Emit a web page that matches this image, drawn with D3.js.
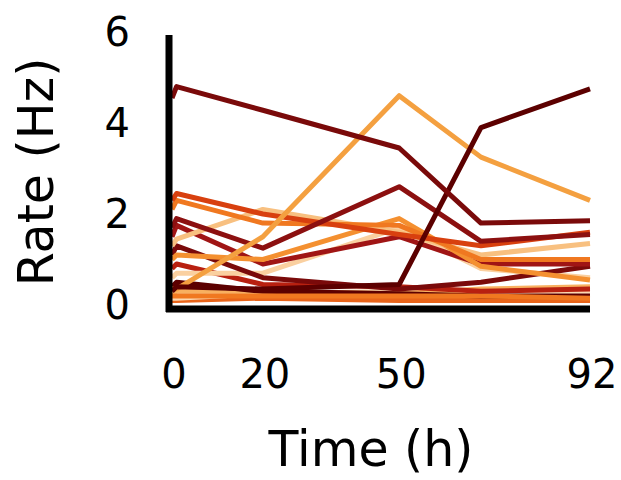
<!DOCTYPE html>
<html>
<head>
<meta charset="utf-8">
<script src="https://cdn.jsdelivr.net/npm/d3@7"></script>
<style>
  body { margin: 0; background: #fff; }
  text { font-family: "DejaVu Sans", sans-serif; fill: #000; }
</style>
</head>
<body>
<svg id="chart" width="621" height="480"></svg>
<script>
// time points (h) shared by every recording
const times = [0, 1, 20, 50, 68, 92];

// firing rate (Hz) of each unit
const unitA = [4.55, 4.8, 4.28, 3.45, 1.8, 1.85];
const unitB = [0.3, 0.4, 0.35, 0.45, 3.9, 4.75];
const unitC = [0.35, 0.35, 1.5, 4.6, 3.25, 2.3];
const unitD = [1.7, 1.9, 1.25, 2.6, 1.4, 1.55];
const unitE = [2.3, 2.45, 2.0, 1.55, 1.3, 1.6];
const unitF = [2.1, 2.3, 1.8, 1.75, 1.0, 1.0];
const unitG = [1.3, 1.45, 2.1, 1.6, 1.1, 1.35];
const unitH = [1.0, 1.1, 1.0, 1.9, 0.85, 0.55];
const unitI = [1.5, 1.75, 0.9, 1.5, 0.9, 0.9];
const unitJ = [1.1, 1.3, 0.6, 0.35, 0.5, 0.85];
const unitK = [0.6, 0.7, 0.7, 1.7, 0.8, 0.6];
const unitL = [0.8, 0.9, 0.45, 0.4, 0.3, 0.35];
const unitM = [0.2, 0.2, 0.2, 0.2, 0.2, 0.15];
const unitN = [0.4, 0.5, 0.3, 0.25, 0.2, 0.2];
const unitO = [0.25, 0.3, 0.3, 0.25, 0.35, 0.4];
const unitP = [0.15, 0.15, 0.25, 0.3, 0.3, 0.3];
const unitQ = [0.1, 0.1, 0.15, 0.1, 0.1, 0.1];

const seriesList = [unitQ, unitP, unitO, unitN, unitM, unitL, unitK, unitJ, unitI,
                    unitH, unitG, unitF, unitE, unitD, unitC, unitB, unitA];
const seriesColors = ["#e8641a", "#fcd8b0", "#f8b060", "#5c0000", "#f07820", "#b82010",
                      "#fad0a0", "#7a0a0a", "#a01515", "#f49030", "#f8c080", "#f07820",
                      "#d8400f", "#8c1010", "#f4a040", "#5c0000", "#7a0a0a"];

const xTicks = [0, 20, 50, 92];
const yTicks = [0, 2, 4, 6];

const svg = d3.select("#chart");

const x = d3.scaleLinear().domain([0, 92]).range([172, 590]);
const y = d3.scaleLinear().domain([0, 6]).range([305, 32]);

const line = d3.line()
  .x((d, i) => x(times[i]))
  .y(d => y(d));

// unit traces
svg.append("g")
  .selectAll("path")
  .data(seriesList)
  .enter()
  .append("path")
  .attr("d", d => line(d))
  .attr("fill", "none")
  .attr("stroke", (d, i) => seriesColors[i])
  .attr("stroke-width", 5)
  .attr("stroke-linejoin", "round");

// spines (no tick marks, just thick lines)
svg.append("line")
  .attr("x1", x(0) - 3).attr("x2", x(0) - 3)
  .attr("y1", y(6) + 3).attr("y2", y(0) + 7)
  .attr("stroke", "#000").attr("stroke-width", 7);
svg.append("line")
  .attr("x1", x(0) - 6).attr("x2", x(92))
  .attr("y1", y(0) + 4).attr("y2", y(0) + 4)
  .attr("stroke", "#000").attr("stroke-width", 7);

// tick labels
svg.append("g")
  .selectAll("text")
  .data(yTicks)
  .enter()
  .append("text")
  .attr("x", 130)
  .attr("y", d => y(d))
  .attr("dy", "0.36em")
  .attr("text-anchor", "end")
  .style("font-size", "40px")
  .text(d => d);

svg.append("g")
  .selectAll("text")
  .data(xTicks)
  .enter()
  .append("text")
  .attr("x", d => x(d) + 2)
  .attr("y", 388)
  .attr("text-anchor", "middle")
  .style("font-size", "40px")
  .text(d => d);

// axis titles
svg.append("text")
  .attr("x", 371)
  .attr("y", 466)
  .attr("text-anchor", "middle")
  .style("font-size", "49px")
  .text("Time (h)");

svg.append("text")
  .attr("transform", "translate(53,172) rotate(-90)")
  .attr("text-anchor", "middle")
  .style("font-size", "49px")
  .text("Rate (Hz)");
</script>
</body>
</html>
